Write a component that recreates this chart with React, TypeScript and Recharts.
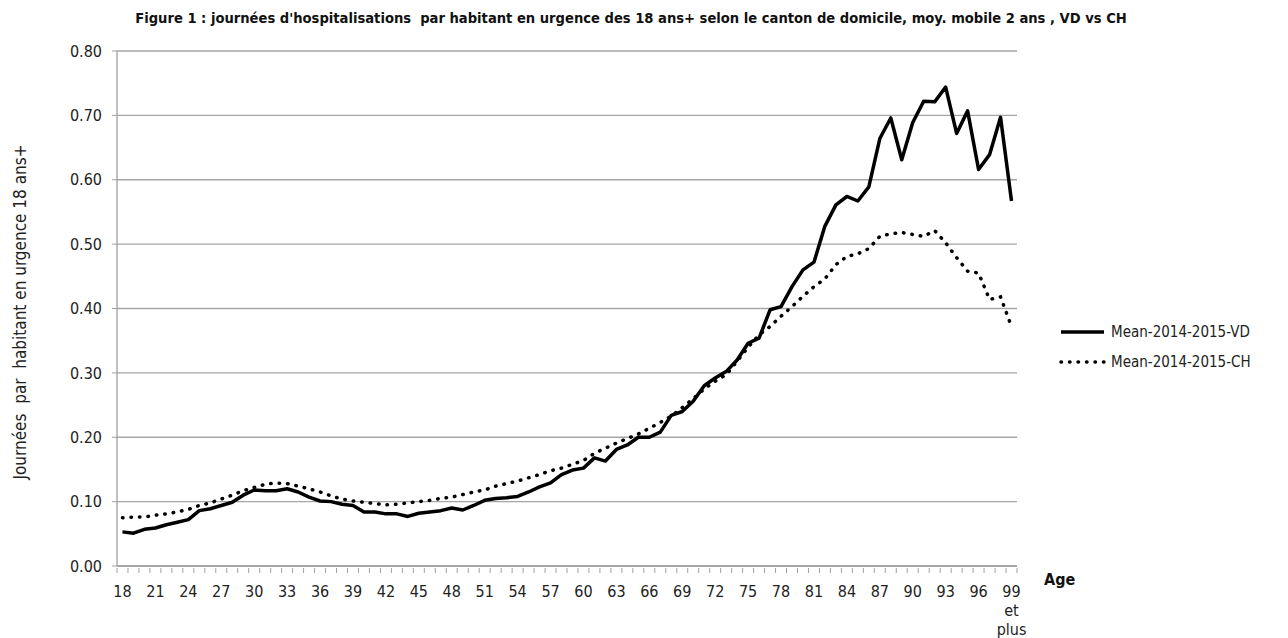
import { CartesianGrid, Line, LineChart, XAxis, YAxis } from "recharts"

const ages = [
  "18", "19", "20", "21", "22", "23", "24", "25", "26", "27", "28", "29", "30", "31", "32", "33", "34",
  "35", "36", "37", "38", "39", "40", "41", "42", "43", "44", "45", "46", "47", "48", "49", "50", "51",
  "52", "53", "54", "55", "56", "57", "58", "59", "60", "61", "62", "63", "64", "65", "66", "67", "68",
  "69", "70", "71", "72", "73", "74", "75", "76", "77", "78", "79", "80", "81", "82", "83", "84", "85",
  "86", "87", "88", "89", "90", "91", "92", "93", "94", "95", "96", "97", "98", "99 et plus",
]

const vdValues = [
  0.053, 0.051, 0.057, 0.059, 0.064, 0.068, 0.072, 0.086, 0.089, 0.094, 0.099, 0.11, 0.118, 0.117, 0.117, 0.12, 0.115,
  0.107, 0.101, 0.1, 0.096, 0.094, 0.084, 0.084, 0.081, 0.081, 0.077, 0.082, 0.084, 0.086, 0.09, 0.087, 0.094, 0.102,
  0.105, 0.106, 0.108, 0.115, 0.123, 0.129, 0.142, 0.149, 0.152, 0.168, 0.163, 0.181, 0.188, 0.2, 0.2, 0.208, 0.234,
  0.24, 0.256, 0.28, 0.292, 0.302, 0.32, 0.346, 0.354, 0.398, 0.403, 0.434, 0.46, 0.472, 0.528, 0.561, 0.574, 0.567,
  0.589, 0.664, 0.696, 0.631, 0.689, 0.722, 0.721, 0.744, 0.672, 0.707, 0.616, 0.639, 0.697, 0.567,
]

const chValues = [
  0.075, 0.076, 0.076, 0.079, 0.081, 0.084, 0.088, 0.094, 0.098, 0.104, 0.11, 0.117, 0.122, 0.127, 0.129, 0.128, 0.124,
  0.12, 0.115, 0.109, 0.104, 0.101, 0.099, 0.097, 0.095, 0.096, 0.098, 0.1, 0.102, 0.105, 0.107, 0.111, 0.115, 0.118,
  0.124, 0.128, 0.132, 0.137, 0.142, 0.148, 0.152, 0.158, 0.164, 0.175, 0.183, 0.191, 0.198, 0.205, 0.214, 0.223, 0.233,
  0.246, 0.26, 0.275, 0.287, 0.297, 0.318, 0.34, 0.359, 0.372, 0.388, 0.403, 0.419, 0.434, 0.446, 0.468, 0.481, 0.485,
  0.493, 0.512, 0.516, 0.518, 0.515, 0.512, 0.521, 0.502, 0.479, 0.458, 0.455, 0.414, 0.418, 0.372,
]

const yTicks = [0, 0.1, 0.2, 0.3, 0.4, 0.5, 0.6, 0.7, 0.8]

const data = ages.map((age, i) => ({ age, vd: vdValues[i], ch: chValues[i] }))

const FONT = "'Liberation Sans Narrow', 'DejaVu Sans Condensed', 'Open Sans', sans-serif"
const PLOT_LEFT = 117
const PLOT_RIGHT = 1017
const BAND = (PLOT_RIGHT - PLOT_LEFT) / ages.length

function AgeTick(props: any) {
  const { x, y, payload, index } = props
  const lines = String(payload.value).split(" ")
  return (
    <g>
      <line x1={x - BAND / 2} x2={x - BAND / 2} y1={y} y2={y + 5} stroke="#a0a0a0" />
      {index === ages.length - 1 && (
        <line x1={x + BAND / 2} x2={x + BAND / 2} y1={y} y2={y + 5} stroke="#a0a0a0" />
      )}
      {index % 3 === 0 && (
        <text x={x} y={y + 29} textAnchor="middle" fontSize={16} fill="#222" fontFamily={FONT}>
          {lines.map((l, j) => (
            <tspan key={j} x={x} dy={j === 0 ? 0 : 19}>
              {l}
            </tspan>
          ))}
        </text>
      )}
    </g>
  )
}

const legendItems = [
  { name: "Mean-2014-2015-VD", dash: undefined },
  { name: "Mean-2014-2015-CH", dash: "0.5 8" },
]

function LegendBox() {
  return (
    <div
      style={{ position: "absolute", left: 1058, top: 317, fontFamily: FONT, fontSize: 15, color: "#222" }}
    >
      {legendItems.map((it) => (
        <div key={it.name} style={{ display: "flex", alignItems: "center", height: 30 }}>
          <svg width={50} height={10}>
            <line
              x1={3}
              x2={46}
              y1={5}
              y2={5}
              stroke="#000"
              strokeWidth={3.5}
              strokeDasharray={it.dash}
              strokeLinecap={it.dash ? "round" : "butt"}
            />
          </svg>
          <span style={{ marginLeft: 3 }}>{it.name}</span>
        </div>
      ))}
    </div>
  )
}

export default function App() {
  return (
    <div style={{ position: "absolute", left: 0, top: 0, width: 1288, height: 638, background: "#fff" }}>
      <div
        style={{
          position: "absolute",
          left: 0,
          width: 1262,
          top: 9,
          textAlign: "center",
          fontFamily: FONT,
          fontWeight: "bold",
          fontSize: 14.6,
          color: "#111",
        }}
      >
        Figure 1 : journées d'hospitalisations&nbsp; par habitant en urgence des 18 ans+ selon le canton de domicile, moy. mobile 2 ans , VD vs CH
      </div>
      <div
        style={{
          position: "absolute",
          left: 20,
          top: 312,
          transform: "translate(-50%, -50%) rotate(-90deg)",
          whiteSpace: "nowrap",
          fontFamily: FONT,
          fontSize: 17,
          color: "#222",
        }}
      >
        Journées&nbsp; par&nbsp; habitant en urgence 18 ans+
      </div>
      <div
        style={{
          position: "absolute",
          left: 1044,
          top: 570,
          fontFamily: FONT,
          fontWeight: "bold",
          fontSize: 16,
          color: "#111",
        }}
      >
        Age
      </div>
      <LegendBox />
      <LineChart
        width={1288}
        height={638}
        data={data}
        margin={{ top: 51, right: 1288 - PLOT_RIGHT, bottom: 0, left: 0 }}
      >
        <CartesianGrid vertical={false} stroke="#a6a6a6" strokeWidth={1.3} />
        <XAxis
          dataKey="age"
          interval={0}
          height={72}
          padding={{ left: BAND / 2, right: BAND / 2 }}
          tickSize={0}
          tickLine={false}
          axisLine={{ stroke: "#a0a0a0", strokeWidth: 1.3 }}
          tick={<AgeTick />}
        />
        <YAxis
          width={PLOT_LEFT}
          domain={[0, 0.8]}
          ticks={yTicks}
          tickFormatter={(v: number) => v.toFixed(2)}
          tickSize={5}
          tickMargin={10}
          tickLine={{ stroke: "#a0a0a0" }}
          axisLine={{ stroke: "#a0a0a0", strokeWidth: 1.3 }}
          tick={{ fontSize: 16, fill: "#222", fontFamily: FONT }}
        />
        <Line
          dataKey="vd"
          name="Mean-2014-2015-VD"
          stroke="#000"
          strokeWidth={3.5}
          strokeLinejoin="round"
          dot={false}
          isAnimationActive={false}
        />
        <Line
          dataKey="ch"
          name="Mean-2014-2015-CH"
          stroke="#000"
          strokeWidth={3.5}
          strokeDasharray="0.5 8"
          strokeLinecap="round"
          dot={false}
          isAnimationActive={false}
        />
      </LineChart>
    </div>
  )
}
